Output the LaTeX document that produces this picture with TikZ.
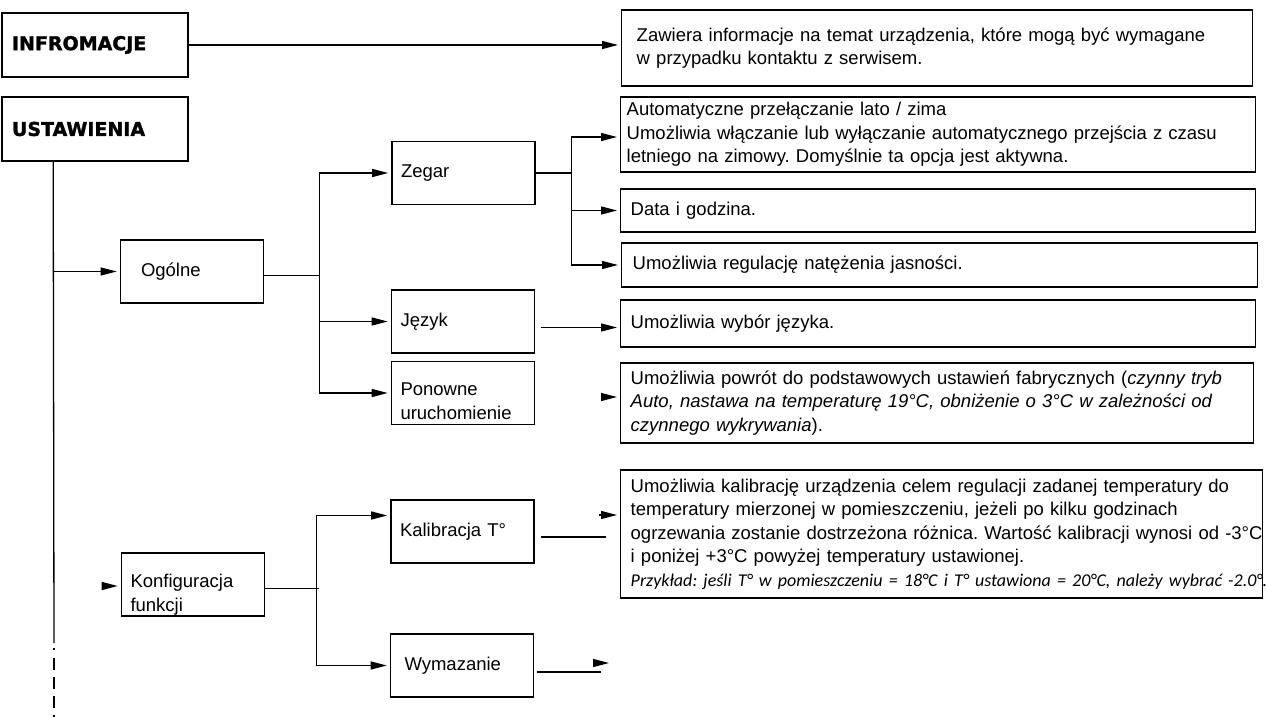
\documentclass[tikz,border=0pt]{standalone}
\usepackage{fontspec}
\setmainfont{Liberation Sans}
\newfontfamily\headfont{DejaVu Sans}[BoldFeatures={FakeBold=1.6}]
\newfontfamily\notefont{Carlito}
\frenchspacing
\usetikzlibrary{arrows.meta,calc}

\tikzset{
  box/.style={draw, line width=1.6pt, minimum width=143pt, minimum height=63pt,
              inner xsep=9pt, text width=125pt, align=left},
  twoline/.style={inner ysep=0pt, execute at begin node={\rule{0pt}{#1}}},
  head/.style={box, minimum width=186pt, minimum height=64pt, inner xsep=10pt,
               text width=166pt, font=\headfont\bfseries\fontsize{19}{23}\selectfont},
  desc/.style={draw, line width=1.4pt, anchor=west, inner xsep=10pt, align=left},
  arr/.style={-{Triangle[length=16pt,width=8pt]}, shorten >=3pt},
}

\begin{document}
\begin{tikzpicture}[x=1pt, y=-1pt, line width=1.3pt,
                    font=\fontsize{18.5}{23.5}\selectfont]
  \useasboundingbox (0,0) rectangle (1267,717);

  \node[head] (info) at (95,45) {INFROMACJE};
  \node[head] (ust) at (95,129) {USTAWIENIA};

  \node[box, inner xsep=20pt, text width=102pt] (ogolne) at (192,271.5) {Ogólne};
  \node[box] (zegar) at (463.5,173) {Zegar};
  \node[box] (jezyk) at (463,321.5) {Język};
  \node[box, twoline=29.6pt] (ponowne) at (463,393) {Ponowne\\uruchomienie};
  \node[box, twoline=33.6pt] (konfig) at (193,584.5) {Konfiguracja\\funkcji};
  \node[box] (kalib) at (462.5,531.5) {Kalibracja T°};
  \node[box, inner xsep=14pt, text width=115pt] (wymaz) at (462,665.5) {Wymazanie};

  \node[desc, minimum width=631pt, minimum height=76pt, inner xsep=15pt, text width=601pt]
    (infodesc) at (621,48) {Zawiera informacje na temat urządzenia, które mogą być wymagane\\
    w przypadku kontaktu z serwisem.};
  \node[desc, minimum width=635pt, minimum height=75pt, inner xsep=6pt, text width=623pt]
    (auto) at (620,134.5) {Automatyczne przełączanie lato / zima\\
    Umożliwia włączanie lub wyłączanie automatycznego przejścia z czasu\\
    letniego na zimowy. Domyślnie ta opcja jest aktywna.};
  \node[desc, minimum width=635pt, minimum height=43pt, text width=615pt]
    (data) at (620,210.5) {Data i godzina.};
  \node[desc, minimum width=636pt, minimum height=44pt, inner xsep=11pt, text width=614pt]
    (regul) at (621,265) {Umożliwia regulację natężenia jasności.};
  \node[desc, minimum width=635pt, minimum height=47pt, text width=615pt]
    (jezykdesc) at (620,323.5) {Umożliwia wybór języka.};
  \node[desc, minimum width=633pt, minimum height=80pt, text width=613pt]
    (resetdesc) at (620,403) {Umożliwia powrót do podstawowych ustawień fabrycznych (\textit{czynny tryb}\\
    \textit{Auto, nastawa na temperaturę 19°C, obniżenie o 3°C w zależności od}\\
    \textit{czynnego wykrywania}).};
  \node[desc, minimum width=642pt, minimum height=128pt, text width=622pt]
    (kalibdesc) at (620,534) {\mbox{Umożliwia kalibrację urządzenia celem regulacji zadanej temperatury do}\\
    \mbox{temperatury mierzonej w pomieszczeniu, jeżeli po kilku godzinach}\\
    \mbox{ogrzewania zostanie dostrzeżona różnica. Wartość kalibracji wynosi od -3°C}\\
    \mbox{i poniżej +3°C powyżej temperatury ustawionej.}\\
    \mbox{\notefont\itshape\fontsize{18}{23.5}\selectfont Przykład: jeśli T° w pomieszczeniu = 18°C i T° ustawiona = 20°C, należy wybrać -2.0°.}};

  \coordinate (stem) at ($(ust.south west)+(52,0)$);
  \coordinate (s1) at (54,643);
  \coordinate (s2) at (54,648);
  \coordinate (s3) at (54,650);
  \coordinate (s4) at (54,658);
  \coordinate (s5) at (54,717);
  \draw (stem) -- (s1);
  \draw (s2) -- (s3);
  \draw[dash pattern=on 12pt off 7pt] (s4) -- (s5);

  \draw[arr] (info.east) -- (info.east -| infodesc.west);
  \draw[arr] (stem |- ogolne.west) -- (ogolne.west);
  \draw[arr] ($(konfig.west)+(-19,1.5)$) -- ($(konfig.west)+(0,1.5)$);

  \coordinate (t1) at ($(ogolne.east)+(55,4)$);
  \draw ($(ogolne.east)+(0,4)$) -- (t1);
  \draw[arr] (t1) |- (zegar.west);
  \draw[arr] (t1) |- (jezyk.west);
  \draw[arr] (t1) |- (ponowne.west);

  \coordinate (t2) at ($(zegar.east)+(36,0)$);
  \draw (zegar.east) -- (t2);
  \draw[arr] (t2) |- ($(auto.west)+(0,2.5)$);
  \draw[arr] (t2) |- (data.west);
  \draw[arr] (t2) |- (regul.west);

  \draw[arr] ($(jezyk.east)+(6,6)$) -- ($(jezyk.east -| jezykdesc.west)+(0,6)$);
  \draw[arr] ($(resetdesc.west)+(-19,-6)$) -- ($(resetdesc.west)+(0,-6)$);

  \coordinate (t3) at ($(konfig.east)+(54,4)$);
  \coordinate (t3v) at ($(t3)+(-3,0)$);
  \draw ($(konfig.east)+(0,4)$) -- (t3);
  \draw[arr] (t3v) |- ($(kalib.west)+(0,-16)$);
  \draw[arr] (t3v) |- (wymaz.west);

  \coordinate (kcut) at ($(kalibdesc.west)+(-14,3)$);
  \draw ($(kalib.east)+(6,5.5)$) -- (kcut);
  \draw[arr] ($(kalibdesc.west)+(-21,-19)$) -- ($(kalibdesc.west)+(0,-19)$);

  \coordinate (wcut) at (601,672);
  \coordinate (wend) at (612,663);
  \draw ($(wymaz.east)+(3,6.5)$) -- (wcut);
  \draw[arr] ($(wend)+(-19,0)$) -- (wend);
\end{tikzpicture}
\end{document}
